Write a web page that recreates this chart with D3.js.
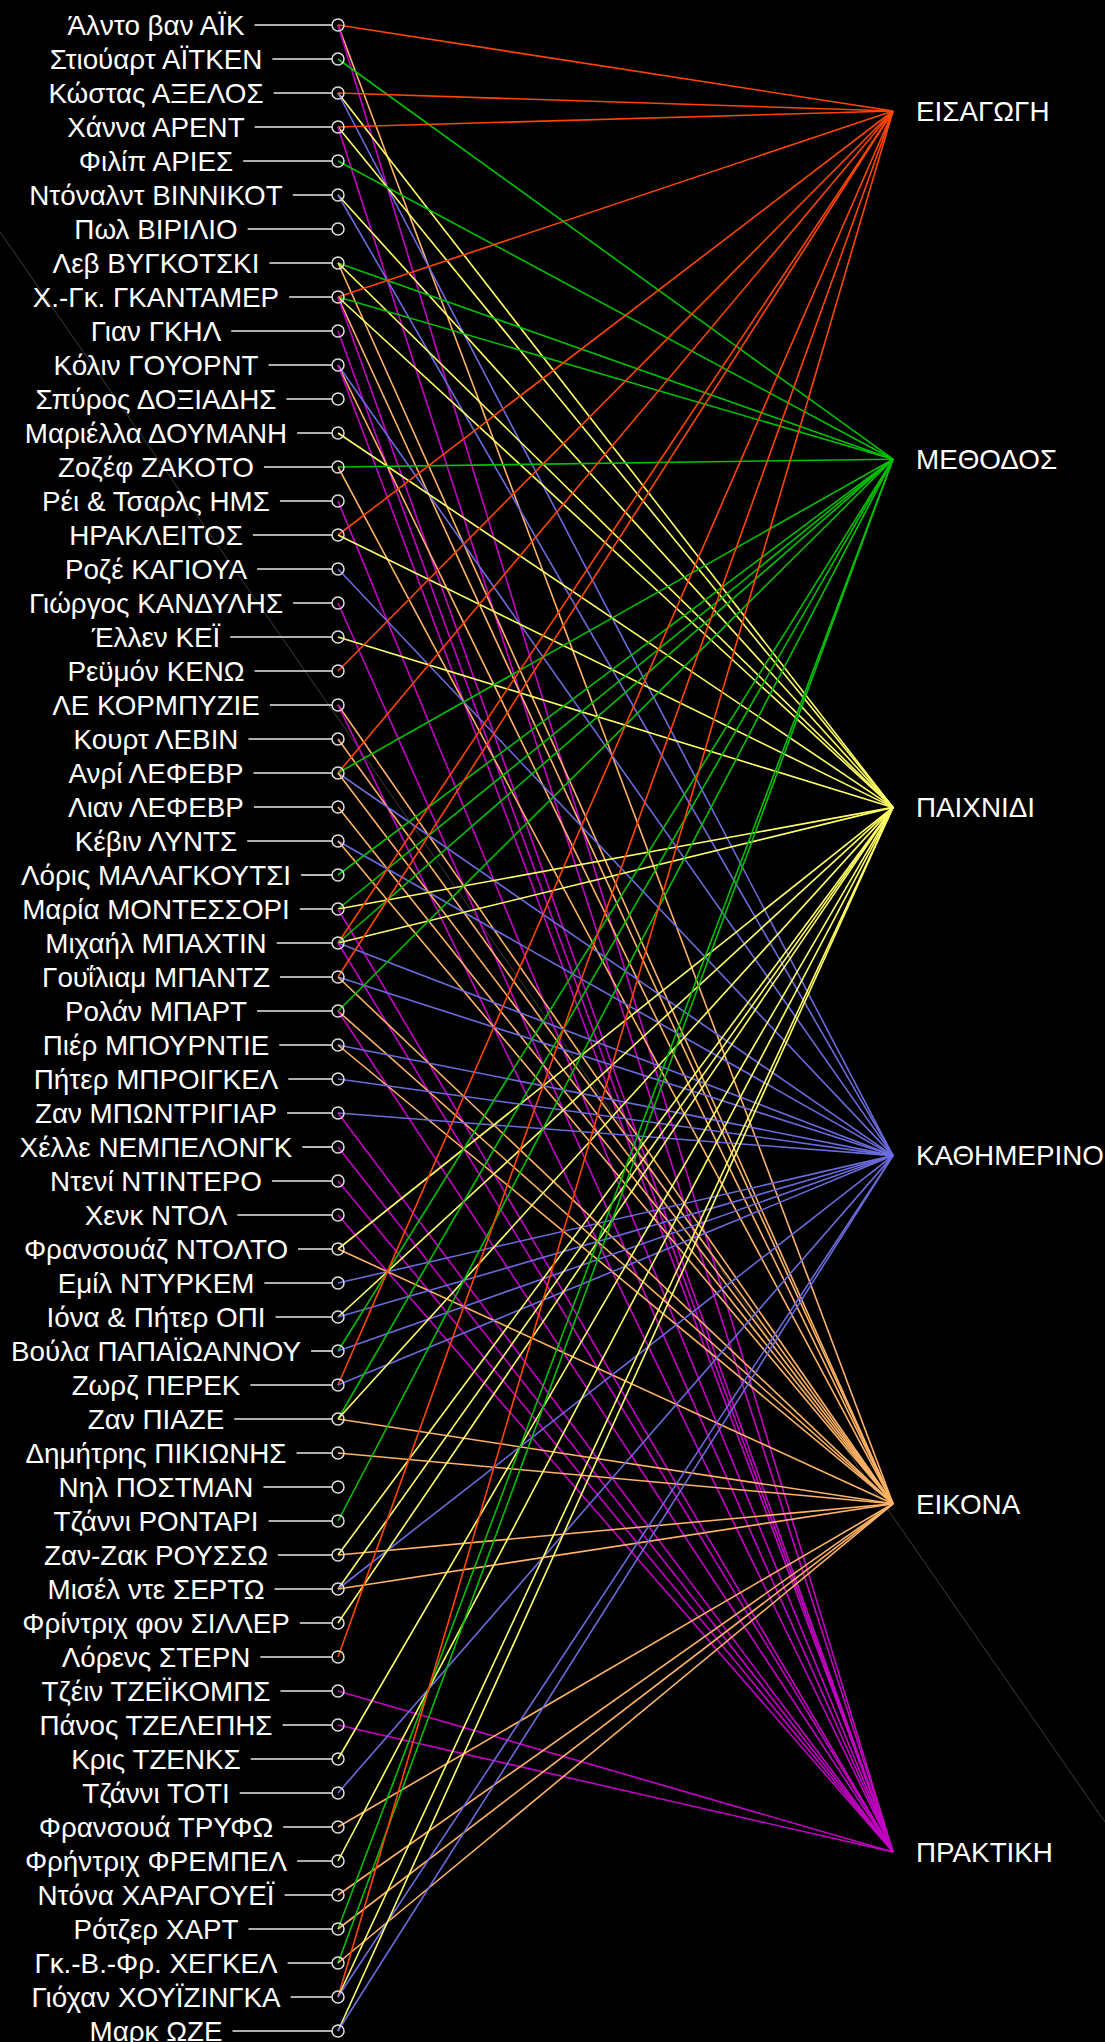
<!DOCTYPE html>
<html><head><meta charset="utf-8">
<script src="https://cdn.jsdelivr.net/npm/d3@7"></script>
<style>body{margin:0;background:#000}</style>
</head><body><svg id="c" width="1105" height="2042"></svg>
<script>
const authors = ["Άλντο βαν ΑΪΚ","Στιούαρτ ΑΪΤΚΕΝ","Κώστας ΑΞΕΛΟΣ","Χάννα ΑΡΕΝΤ","Φιλίπ ΑΡΙΕΣ","Ντόναλντ ΒΙΝΝΙΚΟΤ","Πωλ ΒΙΡΙΛΙΟ","Λεβ ΒΥΓΚΟΤΣΚΙ","Χ.-Γκ. ΓΚΑΝΤΑΜΕΡ","Γιαν ΓΚΗΛ","Κόλιν ΓΟΥΟΡΝΤ","Σπύρος ΔΟΞΙΑΔΗΣ","Μαριέλλα ΔΟΥΜΑΝΗ","Ζοζέφ ΖΑΚΟΤΟ","Ρέι & Τσαρλς ΗΜΣ","ΗΡΑΚΛΕΙΤΟΣ","Ροζέ ΚΑΓΙΟΥΑ","Γιώργος ΚΑΝΔΥΛΗΣ","Έλλεν ΚΕΪ","Ρεϋμόν ΚΕΝΩ","ΛΕ ΚΟΡΜΠΥΖΙΕ","Κουρτ ΛΕΒΙΝ","Ανρί ΛΕΦΕΒΡ","Λιαν ΛΕΦΕΒΡ","Κέβιν ΛΥΝΤΣ","Λόρις ΜΑΛΑΓΚΟΥΤΣΙ","Μαρία ΜΟΝΤΕΣΣΟΡΙ","Μιχαήλ ΜΠΑΧΤΙΝ","Γουΐλιαμ ΜΠΑΝΤΖ","Ρολάν ΜΠΑΡΤ","Πιέρ ΜΠΟΥΡΝΤΙΕ","Πήτερ ΜΠΡΟΙΓΚΕΛ","Ζαν ΜΠΩΝΤΡΙΓΙΑΡ","Χέλλε ΝΕΜΠΕΛΟΝΓΚ","Ντενί ΝΤΙΝΤΕΡΟ","Χενκ ΝΤΟΛ","Φρανσουάζ ΝΤΟΛΤΟ","Εμίλ ΝΤΥΡΚΕΜ","Ιόνα & Πήτερ ΟΠΙ","Βούλα ΠΑΠΑΪΩΑΝΝΟΥ","Ζωρζ ΠΕΡΕΚ","Ζαν ΠΙΑΖΕ","Δημήτρης ΠΙΚΙΩΝΗΣ","Νηλ ΠΟΣΤΜΑΝ","Τζάννι ΡΟΝΤΑΡΙ","Ζαν-Ζακ ΡΟΥΣΣΩ","Μισέλ ντε ΣΕΡΤΩ","Φρίντριχ φον ΣΙΛΛΕΡ","Λόρενς ΣΤΕΡΝ","Τζέιν ΤΖΕΪΚΟΜΠΣ","Πάνος ΤΖΕΛΕΠΗΣ","Κρις ΤΖΕΝΚΣ","Τζάννι ΤΟΤΙ","Φρανσουά ΤΡΥΦΩ","Φρήντριχ ΦΡΕΜΠΕΛ","Ντόνα ΧΑΡΑΓΟΥΕΪ","Ρότζερ ΧΑΡΤ","Γκ.-Β.-Φρ. ΧΕΓΚΕΛ","Γιόχαν ΧΟΥΪΖΙΝΓΚΑ","Μαρκ ΩΖΕ"];

const categories = ["ΕΙΣΑΓΩΓΗ","ΜΕΘΟΔΟΣ","ΠΑΙΧΝΙΔΙ","ΚΑΘΗΜΕΡΙΝΟ","ΕΙΚΟΝΑ","ΠΡΑΚΤΙΚΗ"];
const categoryCodes = ["E","M","P","K","I","R"];
const categoryColors = ["#ff4500","#00c000","#ffff66","#6b6bdd","#ffb366","#c400c4"];

// categories linked to each author (codes above), same order as authors
const authorLinks = ["EIR","M","EPK","EPR","M","PK","","MPI","EMPIR","R",
  "KIR","","P","MI","R","EP","K","R","P","E",
  "IR","I","EMKI","I","KI","M","MPR","EMPKR","EKI","MIR",
  "KI","K","KR","R","R","R","PI","K","PK","MK",
  "EK","MPI","I","","M","PI","PKI","P","E","R",
  "R","P","K","I","P","I","MI","MI","EPK","PK"];

const W = 1105, H = 2042;
const svg = d3.select("#c");
svg.append("rect").attr("width", W).attr("height", H).attr("fill", "#000");

const xNode = 338, xCat = 893, xLabel = 156;
const yA = d3.scalePoint().domain(authors).range([25, 2031]);
const yC = d3.scalePoint().domain(categories).range([111, 1852]);
const color = d3.scaleOrdinal().domain(categories).range(categoryColors);

// faint diagonal guide line in the background
svg.append("line")
  .attr("x1", 0).attr("y1", 232).attr("x2", W).attr("y2", 1822)
  .attr("stroke", "#3c3c3c").attr("stroke-width", 1);

const links = [];
authors.forEach((a, i) => {
  for (const ch of authorLinks[i]) {
    const c = categories[categoryCodes.indexOf(ch)];
    links.push({a, c});
  }
});

// labels
const labels = svg.append("g").selectAll("text").data(authors).join("text")
  .attr("x", xLabel).attr("y", d => yA(d)).attr("dy", "0.35em")
  .attr("text-anchor", "middle")
  .attr("font-family", "Liberation Sans, Arial, sans-serif")
  .attr("font-size", 27.8)
  .attr("fill", "#fff")
  .text(d => d);

const ends = {};
labels.each(function(d) { ends[d] = xLabel + this.getComputedTextLength() / 2; });

// white leader lines
svg.append("g").selectAll("line").data(authors).join("line")
  .attr("x1", d => ends[d] + 10).attr("x2", xNode - 6)
  .attr("y1", d => yA(d)).attr("y2", d => yA(d))
  .attr("stroke", "#e8e8e8").attr("stroke-width", 1.6);

// links
svg.append("g").selectAll("line").data(links).join("line")
  .attr("x1", xNode).attr("y1", d => yA(d.a))
  .attr("x2", xCat).attr("y2", d => yC(d.c))
  .attr("stroke", d => color(d.c)).attr("stroke-width", 1.6);

// nodes
svg.append("g").selectAll("circle").data(authors).join("circle")
  .attr("cx", xNode).attr("cy", d => yA(d)).attr("r", 6)
  .attr("fill", "none").attr("stroke", "#e0e0e0").attr("stroke-width", 1.5);

// category labels
svg.append("g").selectAll("text").data(categories).join("text")
  .attr("x", xCat + 23).attr("y", d => yC(d)).attr("dy", "0.35em")
  .attr("font-family", "Liberation Sans, Arial, sans-serif")
  .attr("font-size", 27.8).attr("fill", "#fff")
  .text(d => d);
</script></body></html>
